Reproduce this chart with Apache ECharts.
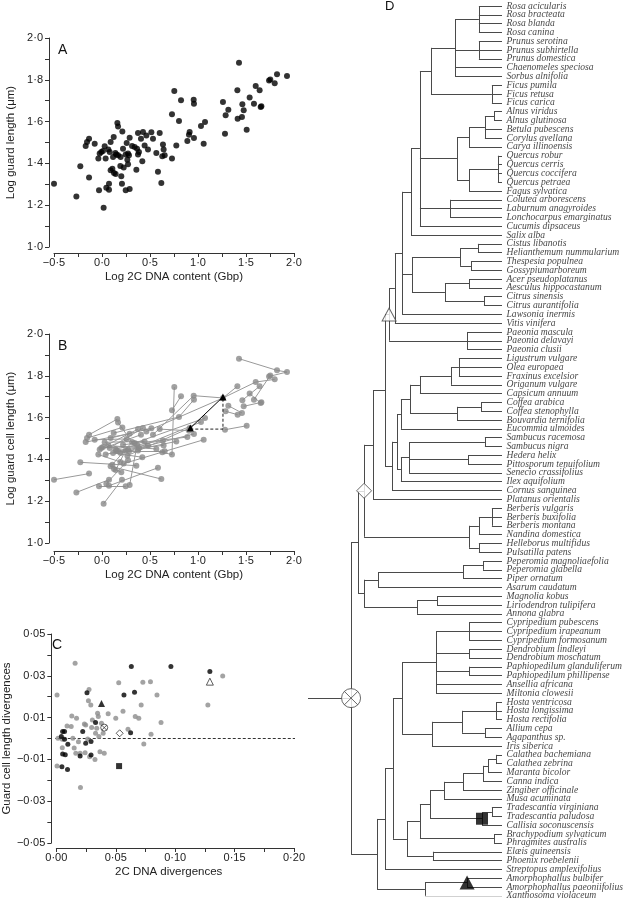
<!DOCTYPE html>
<html><head><meta charset="utf-8">
<script src="https://cdn.jsdelivr.net/npm/echarts/dist/echarts.min.js"></script>
<style>html,body{margin:0;padding:0;background:#fff}#c{width:625px;height:899px}</style>
</head><body><div id="c"></div>
<script>
// ---------- Panel A / B : species values ----------
const logDNA = [-0.5,-0.267,-0.226,-0.135,-0.156,-0.17,-0.135,-0.076,-0.038,-0.031,
 -0.024,-0.007,0.01,0.017,0.028,0.038,0.045,0.066,0.073,0.073,
 0.08,0.09,0.09,0.108,0.115,0.122,0.125,0.139,0.142,0.149,
 0.16,0.167,0.167,0.191,0.194,0.201,0.208,0.212,0.219,0.226,
 0.247,0.247,0.257,0.264,0.271,0.271,0.281,0.288,0.288,0.313,
 0.34,0.358,0.365,0.375,0.375,0.385,0.406,0.42,0.427,0.444,
 0.462,0.479,0.514,0.531,0.566,0.583,0.601,0.618,0.628,0.635,
 0.642,0.653,0.729,0.729,0.753,0.774,0.802,0.823,0.889,0.906,
 0.913,0.955,0.958,0.958,1.031,1.059,1.073,1.26,1.281,1.288,
 1.316,1.41,1.413,1.427,1.458,1.462,1.476,1.507,1.538,1.583,
 1.601,1.642,1.66,1.653,1.74,1.753,1.799,1.823,1.927];
const logGuard = [1.303,1.242,1.386,1.518,1.502,1.483,1.332,1.494,1.423,1.271,
 1.447,1.455,1.459,1.188,1.482,1.424,1.284,1.466,1.274,1.303,
 1.455,1.502,1.367,1.375,1.431,1.526,1.354,1.45,1.349,1.443,
 1.593,1.577,1.439,1.388,1.431,1.338,1.303,1.553,1.47,1.38,
 1.271,1.443,1.498,1.418,1.447,1.396,1.439,1.523,1.277,1.483,
 1.478,1.37,1.47,1.545,1.442,1.455,1.518,1.41,1.55,1.486,
 1.534,1.466,1.549,1.518,1.45,1.36,1.545,1.306,1.434,1.491,
 1.467,1.439,1.635,1.423,1.746,1.486,1.603,1.702,1.507,1.537,
 1.55,1.705,1.686,1.522,1.579,1.494,1.598,1.694,1.542,1.63,
 1.657,1.75,1.614,1.882,1.622,1.683,1.654,1.561,1.715,1.686,
 1.77,1.75,1.673,1.67,1.797,1.802,1.783,1.826,1.818];
// Panel B: connections between species points (index pairs)
const bLinks = [[0,6],[1,19],[2,51],[3,30],[4,37],[5,47],[7,42],[8,33],[9,40],[10,56],
 [11,61],[12,53],[13,36],[14,59],[15,44],[16,45],[17,64],[18,65],[20,58],[21,62],
 [22,67],[23,49],[24,57],[25,76],[26,35],[27,69],[28,41],[29,70],[31,54],[32,71],
 [34,75],[38,78],[39,85],[43,80],[46,84],[48,52],[50,86],[55,83],[60,87],[63,81],
 [66,79],[68,73],[72,77],[74,73],[76,82],[81,87],[87,91],[88,97],[89,92],[90,94],[93,107],[107,108],
 [104,108],[95,101],[96,102],[99,105],[100,106],[98,103],[87,100]];
const ampDNA = [1.26, 0.92];
const ampLen = [1.699, 1.55];

// ---------- Panel C : divergences ----------
const greyDivDNA = [0.0006,0.0006,0.0014,0.005,0.005,0.009,0.0125,0.013,0.0139,0.015,0.0158,0.0164,0.017,0.0186,0.02,0.0203,0.0236,0.0242,0.0247,0.0264,0.027,0.0275,0.028,0.029,0.0297,0.0303,0.0325,0.033,0.034,0.0347,0.0353,0.0358,0.0367,0.038,0.0394,0.0403,0.0436,0.05,0.0525,0.0561,0.0603,0.0664,0.0694,0.0714,0.0728,0.0736,0.0792,0.0797,0.0847,0.0881,0.1275,0.14];
const greyDivLen = [-0.0132,0.0208,0.0001,-0.0044,-0.0003,0.006,0.0057,0.0108,0.0001,-0.0045,0.036,-0.0071,0.0097,-0.0015,-0.0071,-0.0235,0.0069,-0.0068,0.0065,-0.0002,0.0181,0.0235,-0.0087,0.016,0.0053,0.0089,-0.01,0.0025,0.0049,0.0121,0.0105,0.0009,-0.0063,0.0073,0.0025,-0.0071,0.0118,0.0097,0.0267,0.013,0.0044,0.0105,0.0097,0.016,0.0269,-0.0026,0.0272,0.002,0.0208,0.0076,0.016,0.0299];
const blackDivDNA = [0.0042,0.0053,0.0069,0.0053,0.0075,0.0069,0.0097,0.0047,0.0094,0.02,0.0222,0.0247,0.0258,0.0292,0.0292,0.033,0.0569,0.0625,0.0631,0.0658,0.0964,0.1292];
const blackDivLen = [0.0009,0.0033,0.0033,-0.0074,-0.0078,-0.0003,-0.0027,-0.0135,-0.0148,-0.0084,0.0033,-0.0023,0.0219,-0.0014,-0.0079,0.0076,0.0208,0.0028,0.0344,0.0221,0.0344,0.032];
// special nodes: [DNA divergence, length divergence]
const nodeFilledTri = [0.038, 0.0168];
const nodeCrossCircle = [0.0403, 0.0052];
const nodeDiamond = [0.0533, 0.0025];
const nodeSquare = [0.0528, -0.0132];
const nodeOpenTri = [0.1292, 0.0272];

// ---------- Panel D : phylogeny ----------
const species = ["Rosa acicularis","Rosa bracteata","Rosa blanda","Rosa canina","Prunus serotina","Prunus subhirtella","Prunus domestica","Chaenomeles speciosa","Sorbus alnifolia","Ficus pumila","Ficus retusa","Ficus carica","Alnus viridus","Alnus glutinosa","Betula pubescens","Corylus avellana","Carya illinoensis","Quercus robur","Quercus cerris","Quercus coccifera","Quercus petraea","Fagus sylvatica","Colutea arborescens","Laburnum anagyroides","Lonchocarpus emarginatus","Cucumis dipsaceus","Salix alba","Cistus libanotis","Helianthemum nummularium","Thespesia populnea","Gossypiumarboreum","Acer pseudoplatanus","Aesculus hippocastanum","Citrus sinensis","Citrus aurantifolia","Lawsonia inermis","Vitis vinifera","Paeonia mascula","Paeonia delavayi","Paeonia clusii","Ligustrum vulgare","Olea europaea","Fraxinus excelsior","Origanum vulgare","Capsicum annuum","Coffea arabica","Coffea stenophylla","Bouvardia ternifolia","Eucommia ulmoides","Sambucus racemosa","Sambucus nigra","Hedera helix","Pittosporum tenuifolium","Senecio crassifolius","Ilex aquifolium","Cornus sanguinea","Platanus orientalis","Berberis vulgaris","Berberis buxifolia","Berberis montana","Nandina domestica","Helleborus multifidus","Pulsatilla patens","Peperomia magnoliaefolia","Peperomia glabella","Piper ornatum","Asarum caudatum","Magnolia kobus","Liriodendron tulipifera","Annona glabra","Cypripedium pubescens","Cypripedium irapeanum","Cypripedium formosanum","Dendrobium lindleyi","Dendrobium moschatum","Paphiopedilum glanduliferum","Paphiopedilum phillipense","Ansellia africana","Miltonia clowesii","Hosta ventricosa","Hosta longissima","Hosta rectifolia","Allium cepa","Agapanthus sp.","Iris siberica","Calathea bachemiana","Calathea zebrina","Maranta bicolor","Canna indica","Zingiber officinale","Musa acuminata","Tradescantia virginiana","Tradescantia paludosa","Callisia soconuscensis","Brachypodium sylvaticum","Phragmites australis","Elæis guineensis","Phoenix roebelenii","Streptopus amplexifolius","Amorphophallus bulbifer","Amorphophallus paeoniifolius","Xanthosoma violaceum"];
// node(depth 0..100 relative, children, marker); leaves = 1-based species index
const N = (d, kids, mark) => ({d, kids, mark});
const tree = N(22.2, [
 N(25.8, [
  N(28.9, [
   N(33.5, [
    N(39.7, [
     N(41.8, [
      N(44.8, [
       N(48.5, [
        N(53.1, [
         N(57.7, [
          N(63.4, [ N(75.8, [N(88.1,[1,2,3,4]), N(88.1,[5,6,7]), 8, 9]), N(94.8,[10,11,12]) ]),
          N(76.8, [ N(83.0, [N(91.2, [N(95.9,[13,14]), 15, 16]), 17]), N(83.0, [N(97.9,[18,19,20,21]), 22]) ]),
          N(73.2, [23,24,25]),
          26 ]),
         27 ]),
        N(53.6, [ N(78.4, [N(87.6,[28,29]), N(84.0,[30,31])]), N(70.6, [N(83.0,[32,33]), N(90.7,[34,35])]) ]),
        36 ]),
       37 ]),
      N(82.0, [38,39,40]) ], 'otri'),
     N(43.3, [
      N(45.9, [
       N(47.9, [
        N(52.6, [ N(57.7, [N(73.7, [N(77.8,[41,42,43]), 44]), 45]), N(76.8, [N(89.2,[46,47]), 48]) ]),
        49 ]),
       N(47.9, [ N(52.1, [N(91.2,[50,51]), N(82.5,[52,53]), 54]), 55 ]) ]),
      56 ]) ]),
    57 ]),
   N(83.0, [ N(88.1, [N(94.8,[58,59,60]), 61]), N(88.1,[62,63]) ]) ], 'diamond'),
  N(28.9, [
   N(36.1, [ N(79.9, [N(90.2,[64,65]), 66]), 67 ]),
   N(56.2, [ N(66.5,[68,69]), 70 ]) ]) ]),
 N(35.6, [
  N(39.7, [
   N(43.8, [
    N(48.5, [
     N(66.0, [N(83.0,[71,72,73]), N(83.0,[74,75]), N(83.0,[76,77]), 78, 79]),
     N(63.9, [N(79.4, [N(96.9,[80,81,82]), N(91.2,[83,84])]), 85]) ]),
    N(51.0, [
     N(57.7, [
      N(62.9, [
       N(70.1, [N(79.9, [N(90.2, [N(92.8, [N(96.9,[86,87]), 88]), 89]), 90]), 91]),
       N(89.7, [N(94.8,[92,93]), 94], 'sq') ]),
      N(95.9,[95,96]) ]),
     N(64.4,[97,98]) ]) ]),
   99 ]),
  N(60.3, [N(82.0,[100,101],'ftri'), 102]) ]) ], 'cross');
const TIP = 100;

// ---------- helpers ----------
const fmt = (v, dec) => (v < -1e-9 ? '\u2212' : '') + Math.abs(v).toFixed(dec).replace('.', '\u00b7');
const segs = [], marks = {otri:[], diamond:[], cross:[], sq:[], ftri:[]};
function layout(n) {
  if (typeof n === 'number') return {x: TIP, y: n};
  const ps = n.kids.map(layout);
  const y0 = ps[0].y, y1 = ps[ps.length-1].y;
  segs.push([[n.d, y0],[n.d, y1]]);
  ps.forEach(p => segs.push([[n.d, p.y],[p.x, p.y]]));
  const pos = {x: n.d, y: (y0 + y1) / 2};
  if (n.mark) marks[n.mark].push([pos.x, pos.y]);
  return pos;
}
const rootPos = layout(tree);
segs.push([[0, rootPos.y],[rootPos.x, rootPos.y]]);

const font = 'Liberation Sans, Arial, sans-serif';
const axCol = '#333';
function xAx(grid, min, max, step, labelOk, dec, name, offset, nameGap, pad) {
  return {gridIndex: grid, type:'value', min, max, interval: step, offset,
    axisLine:{show:true, onZero:false, lineStyle:{color:axCol, width:1}},
    axisTick:{show:true, length:4, lineStyle:{color:axCol}},
    splitLine:{show:false},
    axisLabel:{margin:4, fontSize:11, fontFamily:font, color:'#222',
      formatter: v => labelOk(v) ? fmt(v, dec) : ''},
    name, nameLocation:'middle', nameGap,
    nameTextStyle:{fontSize:11.5, fontFamily:font, color:'#222', padding: pad || 0}};
}
function yAx(grid, min, max, step, labelOk, dec, name, nameGap) {
  return {gridIndex: grid, type:'value', min, max, interval: step, offset:5,
    axisLine:{show:true, onZero:false, lineStyle:{color:axCol, width:1}},
    axisTick:{show:true, length:4, lineStyle:{color:axCol}},
    splitLine:{show:false},
    axisLabel:{margin:6, fontSize:11, fontFamily:font, color:'#222',
      formatter: v => labelOk(v) ? fmt(v, dec) : ''},
    name, nameLocation:'middle', nameGap, nameRotate:90,
    nameTextStyle:{fontSize:11.5, fontFamily:font, color:'#222'}};
}
const half = v => Math.round(v*100) % 50 === 0;
const even10 = v => Math.round(v*10) % 2 === 0;
const c5 = v => Math.round(v*1000) % 50 === 0;
const odd100 = v => Math.abs(Math.round(v*100)) % 2 === 1;

const ptsAB = logDNA.map((x,i) => [x, logGuard[i]]);
const zip = (a,b) => a.map((x,i) => [x, b[i]]);
const crossPath = 'path://M50,2A48,48 0 1,1 49.9,2Z M16,16L84,84M84,16L16,84';

const option = {
  animation:false,
  grid:[
    {left:54, top:38, width:240, height:209},
    {left:54, top:334, width:240, height:209},
    {left:54, top:634, width:240, height:209},
    {left:308, top:6, width:194, height:101*8.81}
  ],
  xAxis:[
    xAx(0, -0.5, 2, 0.25, half, 1, 'Log 2C DNA content (Gbp)', 6, 18),
    xAx(1, -0.5, 2, 0.25, half, 1, 'Log 2C DNA content (Gbp)', 8, 18),
    xAx(2, 0, 0.2, 0.025, c5, 2, '2C DNA divergences', 5, 18, [0,13,0,0]),
    {gridIndex:3, type:'value', min:0, max:100, show:false}
  ],
  yAxis:[
    yAx(0, 1, 2, 0.1, even10, 1, 'Log guard length (\u03bcm)', 32),
    yAx(1, 1, 2, 0.1, even10, 1, 'Log guard cell length (\u03bcm)', 32),
    yAx(2, -0.05, 0.05, 0.01, odd100, 2, 'Guard cell length divergences', 38),
    {gridIndex:3, type:'value', min:1, max:102, inverse:true, show:false}
  ],
  graphic:[
    {type:'text', left:58, top:43, style:{text:'A', font:'14px '+font, fill:'#111'}},
    {type:'text', left:58, top:339, style:{text:'B', font:'14px '+font, fill:'#111'}},
    {type:'text', left:52, top:638, style:{text:'C', font:'14px '+font, fill:'#111'}},
    {type:'text', left:385, top:0, style:{text:'D', font:'13px '+font, fill:'#111'}}
  ],
  series:[
    // A
    {type:'scatter', xAxisIndex:0, yAxisIndex:0, data:ptsAB, symbolSize:6,
     itemStyle:{color:'#000'}},
    // B links
    {type:'lines', coordinateSystem:'cartesian2d', xAxisIndex:1, yAxisIndex:1,
     data:bLinks.map(([a,b]) => ({coords:[ptsAB[a], ptsAB[b]]})),
     lineStyle:{color:'#999', width:1, opacity:1}},
    {type:'scatter', xAxisIndex:1, yAxisIndex:1, data:ptsAB, symbolSize:6, z:4,
     itemStyle:{color:'#8a8a8a'}},
    {type:'line', xAxisIndex:1, yAxisIndex:1, symbol:'none', z:5,
     data:[[ampDNA[1], ampLen[1]-0.005],[ampDNA[0], ampLen[1]-0.005],[ampDNA[0], ampLen[0]]],
     lineStyle:{color:'#222', width:1, type:[3,2]}},
    {type:'line', xAxisIndex:1, yAxisIndex:1, symbol:'triangle', symbolSize:7, z:6,
     data:zip(ampDNA, ampLen), itemStyle:{color:'#000'}, lineStyle:{color:'#000', width:1}},
    // C
    {type:'line', xAxisIndex:2, yAxisIndex:2, symbol:'none', clip:false,
     data:[[-0.003,0],[0.205,0]], lineStyle:{color:'#333', width:1, type:[3,2]}},
    {type:'scatter', xAxisIndex:2, yAxisIndex:2, data:zip(greyDivDNA, greyDivLen), symbolSize:5, z:4,
     itemStyle:{color:'#8c8c8c'}},
    {type:'scatter', xAxisIndex:2, yAxisIndex:2, data:zip(blackDivDNA, blackDivLen), symbolSize:5, z:5,
     itemStyle:{color:'#000'}},
    {type:'scatter', xAxisIndex:2, yAxisIndex:2, data:[nodeFilledTri], symbol:'triangle', symbolSize:7, z:6, itemStyle:{color:'#000'}},
    {type:'scatter', xAxisIndex:2, yAxisIndex:2, data:[nodeSquare], symbol:'rect', symbolSize:6, z:6, itemStyle:{color:'#000'}},
    {type:'scatter', xAxisIndex:2, yAxisIndex:2, data:[nodeOpenTri], symbol:'triangle', symbolSize:7, z:6, itemStyle:{color:'#fff', borderColor:'#333', borderWidth:1}},
    {type:'scatter', xAxisIndex:2, yAxisIndex:2, data:[nodeDiamond], symbol:'diamond', symbolSize:7, z:6, itemStyle:{color:'#fff', borderColor:'#333', borderWidth:1}},
    {type:'scatter', xAxisIndex:2, yAxisIndex:2, data:[nodeCrossCircle], symbol:crossPath, symbolSize:7, z:6, itemStyle:{color:'#fff', borderColor:'#333', borderWidth:1}},
    // D tree
    {type:'lines', coordinateSystem:'cartesian2d', xAxisIndex:3, yAxisIndex:3, z:2,
     data:segs.map(s => ({coords:s})), lineStyle:{color:'#4a4a4a', width:1, opacity:1}},
    {type:'scatter', xAxisIndex:3, yAxisIndex:3, symbolSize:1, z:3,
     data:species.map((s,i) => ({name:s, value:[TIP, i+1]})),
     itemStyle:{color:'rgba(0,0,0,0)'},
     label:{show:true, position:'right', distance:4, formatter:'{b}', fontSize:9.6,
       fontStyle:'italic', fontFamily:'Liberation Serif, Times New Roman, serif', color:'#111'}},
    {type:'scatter', xAxisIndex:3, yAxisIndex:3, z:10, data:marks.otri, symbol:'triangle', symbolSize:[14,13], itemStyle:{color:'#fff', borderColor:'#444', borderWidth:1}},
    {type:'scatter', xAxisIndex:3, yAxisIndex:3, z:10, data:marks.diamond, symbol:'diamond', symbolSize:[15,15], itemStyle:{color:'#fff', borderColor:'#444', borderWidth:1}},
    {type:'scatter', xAxisIndex:3, yAxisIndex:3, z:10, data:marks.cross, symbol:crossPath, symbolSize:19, itemStyle:{color:'#fff', borderColor:'#444', borderWidth:1}},
    {type:'scatter', xAxisIndex:3, yAxisIndex:3, z:10, data:marks.sq, symbol:'rect', symbolSize:12, itemStyle:{color:'#000'}},
    {type:'scatter', xAxisIndex:3, yAxisIndex:3, z:10, data:marks.ftri, symbol:'triangle', symbolSize:[15,14], itemStyle:{color:'#000'}}
  ]
};
const chart = echarts.init(document.getElementById('c'), null, {renderer:'canvas'});
chart.setOption(option);
</script></body></html>
